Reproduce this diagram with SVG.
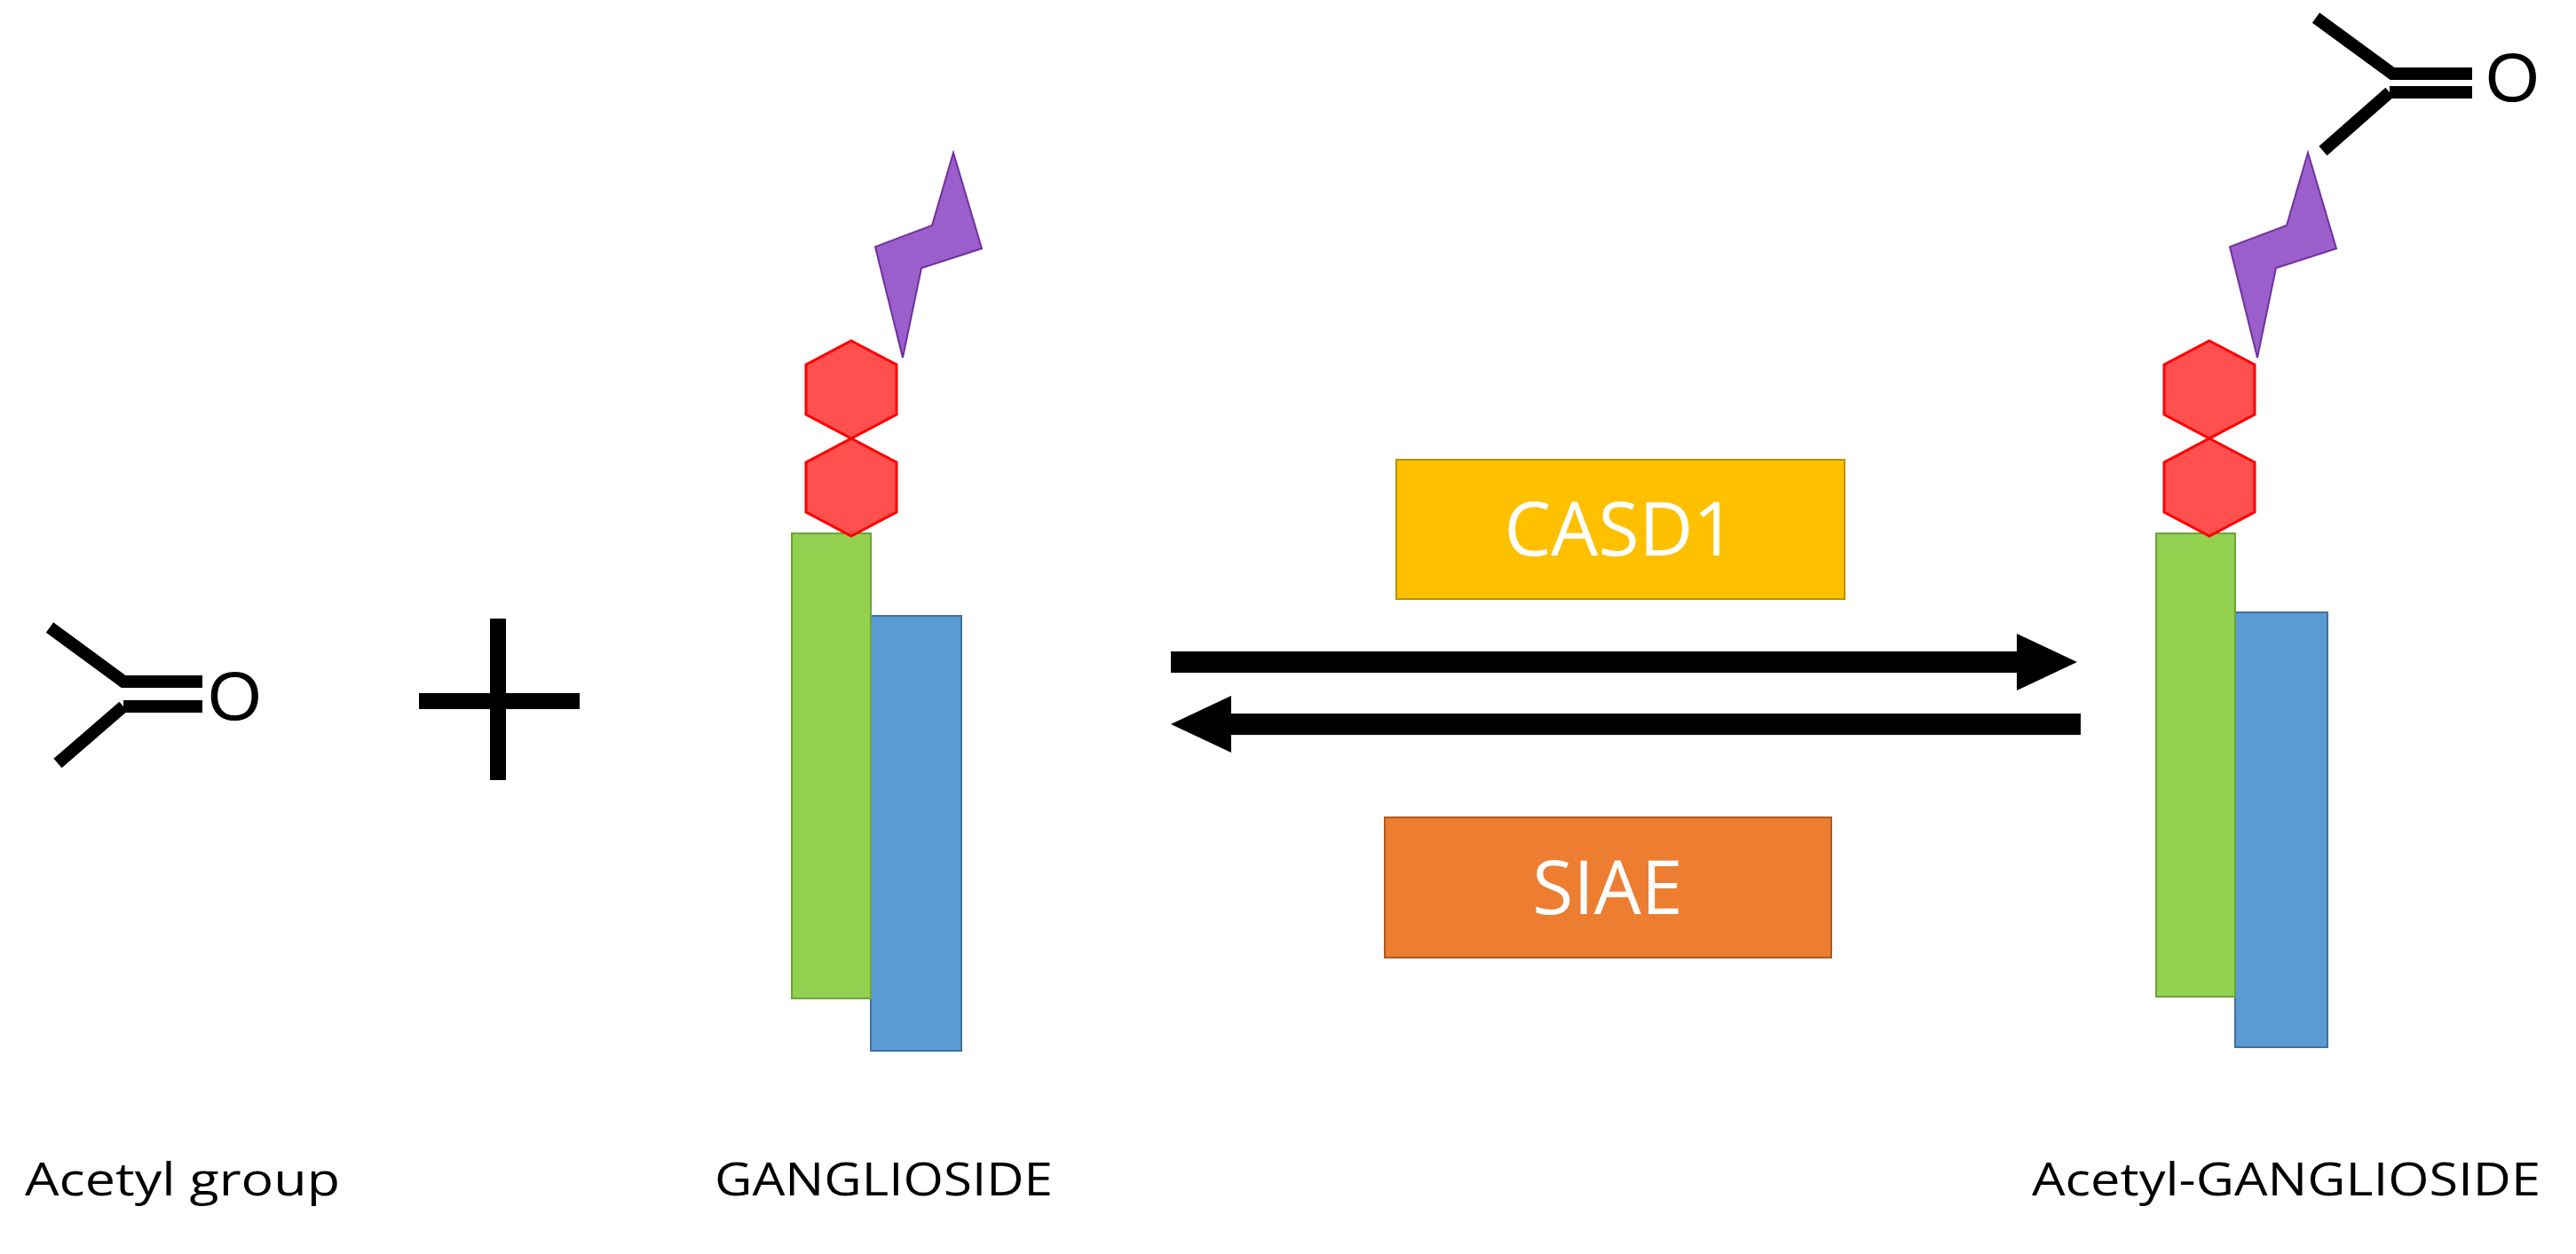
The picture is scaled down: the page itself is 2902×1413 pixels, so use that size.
<svg xmlns="http://www.w3.org/2000/svg" width="2902" height="1413" viewBox="0 0 2902 1413">
<style>
.bond{stroke:#000;stroke-width:14;fill:none}
.hex{fill:#FF5050;stroke:#FF0000;stroke-width:3}
.sia{fill:#9B5FCB;stroke:#7030A0;stroke-width:2}
.g{fill:#92D050;stroke:#6EA33A;stroke-width:2}
.b{fill:#5B9BD5;stroke:#41719C;stroke-width:2}
.lbl{font-family:"Open Sans","Liberation Sans",sans-serif;font-size:52px;fill:#000}
.enz{font-family:"Open Sans","Liberation Sans",sans-serif;font-size:84px;fill:#fff;text-anchor:middle}
.o{font-family:"Liberation Sans",sans-serif;font-size:78px;fill:#000}
</style>
<defs>
<polygon id="hexa" class="hex" points="0,0 51,27 51,83 0,110 -51,83 -51,27"/>
<polygon id="sial" class="sia" points="1074,172 1106,280 1038,302 1017,403 986,278 1050,254"/>
</defs>
<g id="acetyl">
<path class="bond" d="M56,707 L139,768 L228,768 M139,796 L228,796 M139,796 L65,860"/>
<text class="o" x="234" y="811">O</text>
</g>
<g id="plus">
<path stroke="#000" stroke-width="18" d="M472,790 H653 M561,697 V879"/>
</g>
<g id="ganglioside">
<rect class="b" x="981" y="694" width="102" height="490"/>
<rect class="g" x="892" y="601" width="89" height="524"/>
<use href="#hexa" x="959" y="494"/>
<use href="#hexa" x="959" y="384"/>
<use href="#sial"/>
</g>
<g id="acetyl-ganglioside">
<rect class="b" x="2518" y="690" width="104" height="490"/>
<rect class="g" x="2429" y="601" width="89" height="522"/>
<use href="#hexa" x="2489" y="494"/>
<use href="#hexa" x="2489" y="384"/>
<use href="#sial" transform="translate(1526,0)"/>
<path class="bond" d="M2609,20 L2695,83 L2785,83 M2692,104 L2785,104 M2692,104 L2617,170"/>
<text class="o" x="2800" y="114">O</text>
</g>
<g id="casd1">
<rect x="1573" y="518" width="505" height="157" fill="#FFC000" stroke="#BF9000" stroke-width="2"/>
<text class="enz" x="1825" y="626">CASD1</text>
</g>
<g id="siae">
<rect x="1560" y="921" width="503" height="158" fill="#ED7D31" stroke="#AE5A21" stroke-width="2"/>
<text class="enz" x="1811" y="1030">SIAE</text>
</g>
<g id="connectors">
<path stroke="#000" stroke-width="24" d="M1319,746 H2280"/>
<polygon points="2340,746 2272,714 2272,778" fill="#000"/>
<path stroke="#000" stroke-width="24" d="M2344,816 H1380"/>
<polygon points="1319,816 1387,784 1387,848" fill="#000"/>
</g>
<text class="lbl" x="28" y="1347" textLength="355" lengthAdjust="spacingAndGlyphs">Acetyl group</text>
<text class="lbl" x="805" y="1347" textLength="381" lengthAdjust="spacingAndGlyphs">GANGLIOSIDE</text>
<text class="lbl" x="2289" y="1347" textLength="573" lengthAdjust="spacingAndGlyphs">Acetyl-GANGLIOSIDE</text>
</svg>
